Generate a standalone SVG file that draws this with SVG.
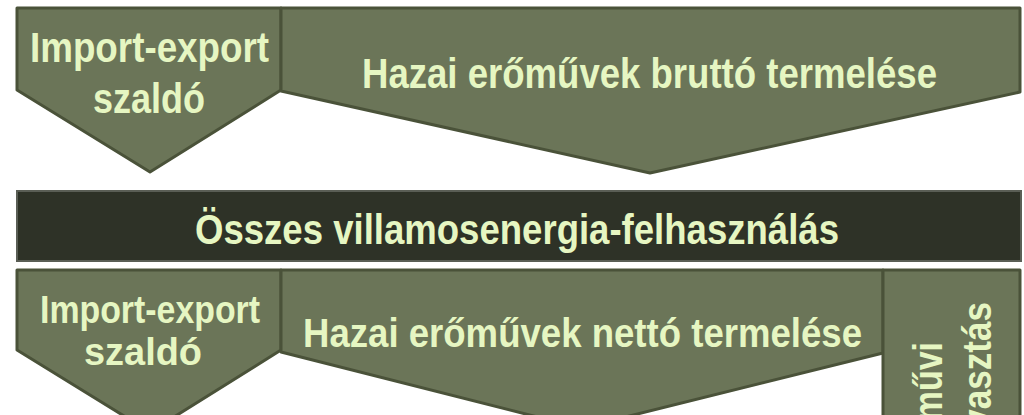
<svg xmlns="http://www.w3.org/2000/svg" width="1024" height="415" viewBox="0 0 1024 415">
<style>
.shape{fill:#6b7558;stroke:#4a5239;stroke-width:3;stroke-linejoin:round}
.bar{fill:#2e3227;stroke:#5a5e55;stroke-width:2}
.t{font-family:"Liberation Sans",Arial,sans-serif;font-weight:bold;fill:#e6f6c2;text-anchor:start}
</style>
<rect width="1024" height="415" fill="#ffffff"/>
<g id="top-import">
<polygon class="shape" points="17,8 281,8 281,90 150,172 17,90"/>
<text class="t" x="30" y="62" font-size="43" textLength="239" lengthAdjust="spacingAndGlyphs">Import-export</text>
<text class="t" x="93" y="113" font-size="43" textLength="112" lengthAdjust="spacingAndGlyphs">szaldó</text>
</g>
<g id="top-brutto">
<polygon class="shape" points="281,8 1020,8 1020,92 650,173 281,91"/>
<text class="t" x="362" y="88" font-size="43" textLength="575" lengthAdjust="spacingAndGlyphs">Hazai erőművek bruttó termelése</text>
</g>
<g id="total">
<rect class="bar" x="17" y="191" width="1004" height="70"/>
<text class="t" x="195" y="244" font-size="43" textLength="644" lengthAdjust="spacingAndGlyphs">Összes villamosenergia-felhasználás</text>
</g>
<g id="bottom-import">
<polygon class="shape" points="17,270 281,270 281,350 150,432 17,350"/>
<text class="t" x="40" y="323" font-size="39" textLength="220" lengthAdjust="spacingAndGlyphs">Import-export</text>
<text class="t" x="84" y="365" font-size="39" textLength="118" lengthAdjust="spacingAndGlyphs">szaldó</text>
</g>
<g id="bottom-netto">
<polygon class="shape" points="281,270 883,270 883,353 581,428 281,352"/>
<text class="t" x="303" y="347" font-size="41" textLength="559" lengthAdjust="spacingAndGlyphs">Hazai erőművek nettó termelése</text>
</g>
<g id="own-use">
<rect class="shape" x="883" y="270" width="137" height="170"/>
<text class="t" transform="translate(942,478) rotate(-90)" x="0" y="0" font-size="41" textLength="136" lengthAdjust="spacingAndGlyphs">Erőművi</text>
<text class="t" transform="translate(991,526) rotate(-90)" x="0" y="0" font-size="41" textLength="224" lengthAdjust="spacingAndGlyphs">önfogyasztás</text>
</g>
<g id="connectors"></g>
</svg>
